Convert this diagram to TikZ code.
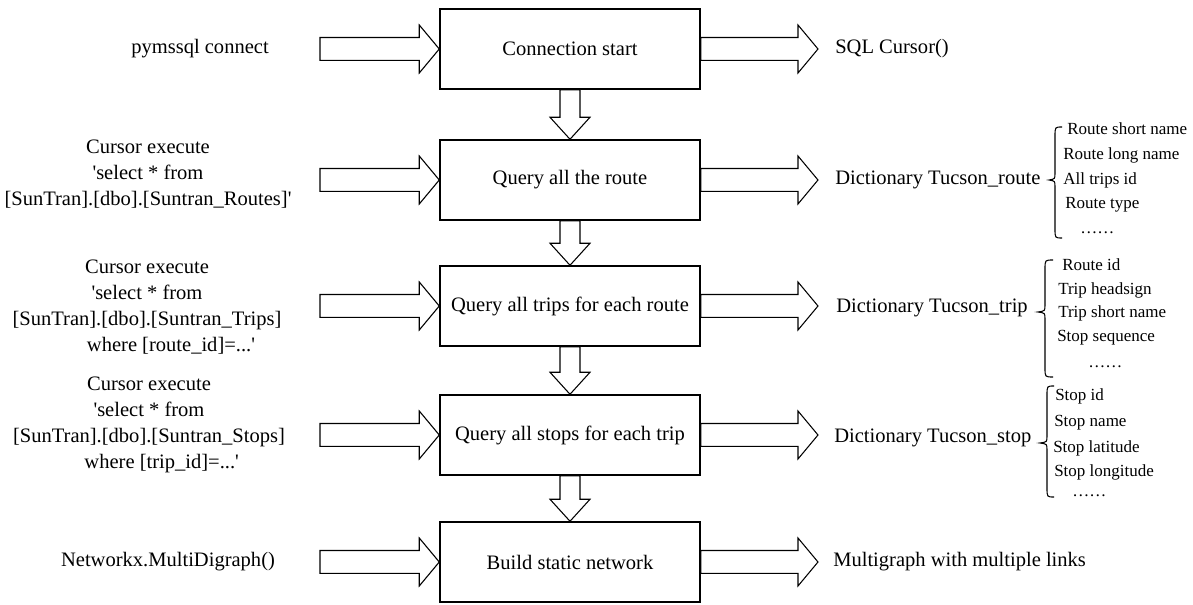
\documentclass[tikz,border=0pt]{standalone}
\usepackage{fontspec}
\setmainfont{Liberation Serif}[Ligatures=TeXOff]
\usetikzlibrary{calc}
\newcommand\mainfs{\fontsize{15.4}{19.5}\selectfont}
\newcommand\itemfs{\fontsize{12.75}{15}\selectfont}
% horizontal block arrow: from #1 to tip #2 (y taken from the tip)
\newcommand\harr[2]{\draw[blk] let \p1=(#1), \p2=(#2) in
  (\x1,\y2+8.6pt) -- (\x2-15pt,\y2+8.6pt) -- (\x2-15pt,\y2+18pt) -- (\x2,\y2)
  -- (\x2-15pt,\y2-18pt) -- (\x2-15pt,\y2-8.6pt) -- (\x1,\y2-8.6pt) -- cycle;}
% vertical block arrow: from #1 (top) down to tip #2
\newcommand\varr[2]{\draw[blk] let \p1=(#1), \p2=(#2) in
  (\x1-7.5pt,\y1) -- (\x1-7.5pt,\y2+16.5pt) -- (\x1-15pt,\y2+16.5pt) -- (\x1,\y2)
  -- (\x1+15pt,\y2+16.5pt) -- (\x1+7.5pt,\y2+16.5pt) -- (\x1+7.5pt,\y1) -- cycle;}
% left curly brace: tip x, vertical x, end x, top y, mid y, bottom y
\newcommand\mybrace[6]{\draw[brc] (#3,#4) .. controls (#2,#4) .. (#2,#4+9)
  -- (#2,#5-7) .. controls (#2,#5-1) .. (#1,#5) .. controls (#2,#5+1) .. (#2,#5+7)
  -- (#2,#6-9) .. controls (#2,#6) .. (#3,#6);}
\begin{document}
\begin{tikzpicture}[x=0.75pt,y=-0.75pt,
  box/.style={draw,line width=1.1pt,minimum width=195pt,minimum height=60pt,inner sep=0pt,font=\mainfs},
  blk/.style={draw,line width=0.8pt,fill=white,line join=miter},
  txt/.style={font=\mainfs,inner sep=0pt},
  itm/.style={font=\itemfs,anchor=west,inner sep=0pt},
  brc/.style={line width=0.8pt}]
\useasboundingbox (0,0) rectangle (1193,605);

% process boxes
\node[box] (b1) at (570,49) {Connection start};
\node[box] (b2) at (570,180) {Query all the route};
\node[box] (b3) at (570,306) {Query all trips for each route};
\node[box] (b4) at (570,435) {Query all stops for each trip};
\node[box] (b5) at (570,562) {Build static network};

% inputs
\node[txt] (i1) at (200,49) {pymssql connect};
\node[txt,align=center] (i2) at (148,174) {Cursor execute\\'select * from\\{[}SunTran].[dbo].[Suntran\_Routes]'};
\node[txt,align=center] (i3) at (147,307) {Cursor execute\\'select * from\\{[}SunTran].[dbo].[Suntran\_Trips]\\\hspace*{36pt}where [route\_id]=...'};
\node[txt,align=center] (i4) at (149,425) {Cursor execute\\'select * from\\{[}SunTran].[dbo].[Suntran\_Stops]\\\hspace*{19pt}where [trip\_id]=...'};
\node[txt] (i5) at (168,562) {Networkx.MultiDigraph()};

% outputs
\node[txt,anchor=west] (o1) at (835,49) {SQL Cursor()};
\node[txt,anchor=west] (o2) at (835,180) {Dictionary Tucson\_route};
\node[txt,anchor=west] (o3) at (836,308) {Dictionary Tucson\_trip};
\node[txt,anchor=west] (o4) at (834,438) {Dictionary Tucson\_stop};
\node[txt,anchor=west] (o5) at (833,562) {Multigraph with multiple links};

% arrow end coordinates
\coordinate (s1) at (320,49);
\coordinate (s2) at (320,180);
\coordinate (s3) at (320,306);
\coordinate (s4) at (320,435);
\coordinate (s5) at (320,562);
\coordinate (e1) at (818,49);
\coordinate (e2) at (818,180);
\coordinate (e3) at (818,306);
\coordinate (e4) at (818,435);
\coordinate (e5) at (818,562);

% input arrows
\harr{s1}{b1.west}
\harr{s2}{b2.west}
\harr{s3}{b3.west}
\harr{s4}{b4.west}
\harr{s5}{b5.west}
% output arrows
\harr{b1.east}{e1}
\harr{b2.east}{e2}
\harr{b3.east}{e3}
\harr{b4.east}{e4}
\harr{b5.east}{e5}
% flow arrows
\varr{b1.south}{b2.north}
\varr{b2.south}{b3.north}
\varr{b3.south}{b4.north}
\varr{b4.south}{b5.north}

% braces
\mybrace{1049}{1055}{1062}{127}{180}{238}
\mybrace{1038}{1045}{1053}{260}{312}{377}
\mybrace{1040}{1047}{1054}{386}{443}{497}

% route attributes
\node[itm] (rt1) at (1067,129) {Route short name};
\node[itm] (rt2) at (1063,155) {Route long name};
\node[itm] (rt3) at (1063,180) {All trips id};
\node[itm] (rt4) at (1065,205) {Route type};
\node[itm] (rt5) at (1080,233) {……};
% trip attributes
\node[itm] (tr1) at (1062,265) {Route id};
\node[itm] (tr2) at (1058,290) {Trip headsign};
\node[itm] (tr3) at (1058,313) {Trip short name};
\node[itm] (tr4) at (1057,338) {Stop sequence};
\node[itm] (tr5) at (1088,367) {……};
% stop attributes
\node[itm] (st1) at (1055,396) {Stop id};
\node[itm] (st2) at (1054,423) {Stop name};
\node[itm] (st3) at (1053,448) {Stop latitude};
\node[itm] (st4) at (1054,472) {Stop longitude};
\node[itm] (st5) at (1072,496) {……};
\end{tikzpicture}
\end{document}
